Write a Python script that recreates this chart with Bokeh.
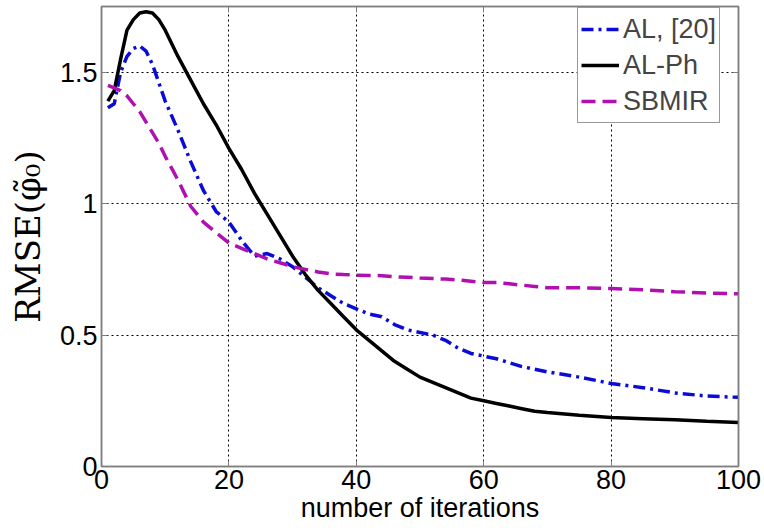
from bokeh.plotting import figure
from bokeh.models import Range1d, FixedTicker, Legend, LegendItem, LinearAxis
from bokeh.embed import file_html
from bokeh.resources import INLINE

# ---- data ----
iters = [1, 2, 3, 4, 5, 6, 7, 8, 9, 10, 12, 14, 16, 18, 20, 22, 24, 26, 28, 30,
         32, 34, 36, 38, 40, 42, 44, 46, 48, 50, 52, 54, 56, 58, 60, 62, 64, 66,
         68, 70, 75, 80, 85, 90, 95, 100]
al_ref = [1.365, 1.38, 1.50, 1.56, 1.59, 1.60, 1.58, 1.53, 1.46, 1.39, 1.28, 1.16,
          1.05, 0.97, 0.93, 0.86, 0.80, 0.81, 0.79, 0.76, 0.72, 0.68, 0.65, 0.62,
          0.60, 0.58, 0.57, 0.54, 0.52, 0.51, 0.50, 0.48, 0.45, 0.43, 0.42, 0.41,
          0.395, 0.38, 0.37, 0.36, 0.34, 0.316, 0.30, 0.28, 0.268, 0.263]
al_ph = [1.39, 1.43, 1.55, 1.66, 1.70, 1.725, 1.73, 1.725, 1.70, 1.66, 1.56, 1.47,
         1.38, 1.30, 1.21, 1.13, 1.04, 0.96, 0.88, 0.80, 0.73, 0.67, 0.62, 0.57,
         0.52, 0.48, 0.44, 0.40, 0.37, 0.34, 0.32, 0.30, 0.28, 0.26, 0.25, 0.24,
         0.23, 0.22, 0.21, 0.205, 0.195, 0.186, 0.182, 0.178, 0.172, 0.167]
sbmir = [1.45, 1.44, 1.43, 1.41, 1.38, 1.35, 1.31, 1.27, 1.23, 1.18, 1.09, 0.99,
         0.93, 0.89, 0.85, 0.83, 0.81, 0.79, 0.775, 0.76, 0.75, 0.74, 0.733, 0.73,
         0.728, 0.727, 0.726, 0.722, 0.72, 0.717, 0.715, 0.713, 0.71, 0.705, 0.70,
         0.70, 0.695, 0.69, 0.685, 0.68, 0.68, 0.677, 0.672, 0.665, 0.66, 0.657]
series_names = ["AL, [20]", "AL-Ph", "SBMIR"]
x_ticks = [0, 20, 40, 60, 80, 100]
y_ticks = [0, 0.5, 1, 1.5]
y_tick_labels = {0: "0", 0.5: "0.5", 1: "1", 1.5: "1.5"}

FONT = "Liberation Sans"
FS = "27px"

p = figure(width=764, height=530, output_backend="svg", toolbar_location=None,
           x_range=Range1d(0, 100), y_range=Range1d(0, 1.75),
           min_border_left=101, min_border_right=26, min_border_top=6,
           min_border_bottom=64)
p.background_fill_color = "white"
p.border_fill_color = "white"
p.outline_line_color = "#7f7f7f"
p.outline_line_width = 1.5

for ax in (p.xaxis[0], p.yaxis[0]):
    ax.axis_line_color = "#7f7f7f"
    ax.axis_line_width = 1.5
    ax.major_tick_in = 6
    ax.major_tick_out = 0
    ax.minor_tick_line_color = None
    ax.major_tick_line_color = "#7f7f7f"
    ax.major_label_text_font = FONT
    ax.major_label_text_font_size = FS
    ax.major_label_text_color = "black"

p.xaxis.ticker = FixedTicker(ticks=x_ticks)
p.yaxis.ticker = FixedTicker(ticks=y_ticks)
p.yaxis.major_label_overrides = y_tick_labels
p.xaxis.major_label_standoff = 3
p.yaxis.major_label_standoff = 4

p.xaxis.axis_label = "number of iterations"
p.xaxis.axis_label_text_font = FONT
p.xaxis.axis_label_text_font_size = "27px"
p.xaxis.axis_label_text_font_style = "normal"
p.xaxis.axis_label_text_color = "black"
p.xaxis.axis_label_standoff = 1

p.yaxis.axis_label = "RMSE(\u03c6\u0303\u2080)"
p.yaxis.axis_label_text_font = "DejaVu Serif"
p.yaxis.axis_label_text_font_size = "34px"
p.yaxis.axis_label_text_font_style = "normal"
p.yaxis.axis_label_text_color = "black"
p.yaxis.axis_label_standoff = 9

# mirrored inward ticks on the top and right edges (no labels)
for side, ticks in (("right", y_ticks), ("above", x_ticks)):
    ax = LinearAxis(ticker=FixedTicker(ticks=ticks),
                    major_label_overrides={t: "" for t in ticks},
                    axis_line_color="#7f7f7f", axis_line_width=1.5,
                    major_tick_in=6, major_tick_out=0, minor_tick_line_color=None,
                    major_tick_line_color="#7f7f7f", major_label_standoff=0)
    p.add_layout(ax, side)

p.xgrid.grid_line_color = "black"
p.xgrid.grid_line_dash = "2 3"
p.xgrid.grid_line_width = 1
p.ygrid.grid_line_color = "black"
p.ygrid.grid_line_dash = "2 3"
p.ygrid.grid_line_width = 1

r1 = p.line(iters, al_ref, line_color="#0b0bd8", line_width=3.5, line_dash="12 5 3 5")
r2 = p.line(iters, al_ph, line_color="black", line_width=3.5)
r3 = p.line(iters, sbmir, line_color="#b010b0", line_width=3.5, line_dash="14 7")

legend = Legend(items=[LegendItem(label=series_names[0], renderers=[r1]),
                       LegendItem(label=series_names[1], renderers=[r2]),
                       LegendItem(label=series_names[2], renderers=[r3])],
                location=(476, 343))
legend.label_text_font = FONT
legend.label_text_font_size = "27px"
legend.glyph_width = 38
legend.glyph_height = 36
legend.label_height = 36
legend.label_standoff = 4
legend.padding = 3
legend.spacing = 0
legend.margin = 0
legend.border_line_color = "#333333"
legend.border_line_width = 1
legend.background_fill_alpha = 1
p.add_layout(legend, "center")

open("out.html", "w").write(file_html(p, INLINE))
